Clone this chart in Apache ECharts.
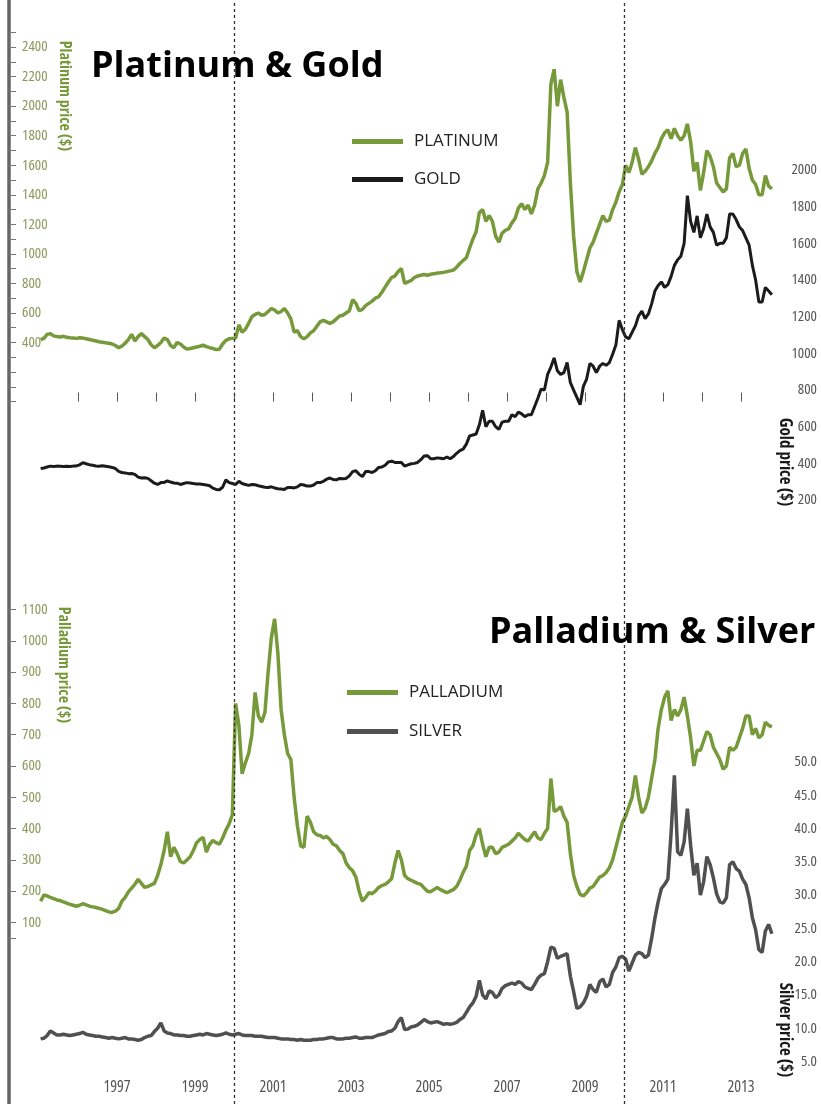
<!DOCTYPE html>
<html>
<head>
<meta charset="utf-8">
<script src="https://cdn.jsdelivr.net/npm/echarts@6/dist/echarts.min.js"></script>
<style>
  html, body { margin: 0; padding: 0; background: #fff; }
  #chart { width: 821px; height: 1104px; }
</style>
</head>
<body>
<div id="chart"></div>
<script>
// Monthly precious-metal prices, Jan 1995 onwards (USD).
const START_YEAR = 1995;

const platinum = [
  420, 428, 455, 460, 445, 440, 438, 442, 436, 432, 430, 428,          // 1995
  432, 430, 425, 420, 415, 410, 405, 402, 398, 395, 390, 380,          // 1996
  365, 375, 395, 420, 455, 410, 440, 460, 440, 420, 385, 365,          // 1997
  380, 400, 430, 420, 380, 365, 400, 390, 370, 355, 360, 365,          // 1998
  370, 375, 382, 372, 365, 360, 352, 355, 390, 415, 425, 428,          // 1999
  430, 520, 470, 490, 530, 575, 590, 600, 585, 590, 610, 630,          // 2000
  620, 600, 610, 630, 600, 560, 470, 480, 440, 425, 440, 465,          // 2001
  480, 510, 540, 550, 540, 530, 540, 560, 580, 585, 600, 615,          // 2002
  690, 665, 615, 625, 650, 665, 680, 700, 710, 740, 775, 810,          // 2003
  840, 850, 880, 900, 800, 810, 820, 840, 850, 855, 860, 855,          // 2004
  862, 865, 870, 872, 875, 880, 885, 890, 910, 935, 955, 975,          // 2005
  1040, 1100, 1150, 1280, 1300, 1220, 1260, 1220, 1120, 1080, 1140, 1160, // 2006
  1170, 1210, 1240, 1310, 1340, 1300, 1330, 1270, 1330, 1440, 1480, 1530, // 2007
  1620, 2150, 2250, 2000, 2180, 2060, 1960, 1480, 1120, 880, 810, 880,    // 2008
  960, 1040, 1080, 1140, 1200, 1260, 1220, 1230, 1300, 1350, 1420, 1470,  // 2009
  1600, 1550, 1620, 1720, 1640, 1540, 1560, 1590, 1630, 1680, 1720, 1780, // 2010
  1820, 1840, 1780, 1850, 1800, 1770, 1800, 1880, 1760, 1560, 1620, 1430, // 2011
  1550, 1700, 1660, 1590, 1480, 1450, 1420, 1440, 1650, 1680, 1590, 1600, // 2012
  1680, 1710, 1580, 1500, 1470, 1400, 1400, 1530, 1460, 1440              // 2013
];

const gold = [
  372, 375, 380, 385, 383, 385, 384, 383, 384, 383, 385, 386,          // 1995
  392, 404, 398, 393, 390, 386, 384, 387, 384, 381, 378, 372,          // 1996
  356, 350, 348, 344, 345, 340, 325, 320, 322, 318, 305, 292,          // 1997
  285, 295, 296, 304, 298, 293, 292, 285, 290, 295, 293, 290,          // 1998
  288, 287, 285, 282, 278, 265, 258, 256, 270, 310, 295, 290,          // 1999
  285, 302, 290, 285, 280, 285, 283, 278, 274, 270, 268, 272,          // 2000
  266, 262, 260, 258, 268, 268, 266, 272, 285, 282, 276, 276,          // 2001
  282, 295, 295, 302, 314, 320, 312, 310, 318, 316, 318, 332,          // 2002
  355, 360, 340, 328, 355, 355, 350, 360, 378, 380, 390, 408,          // 2003
  412, 405, 405, 405, 385, 392, 398, 400, 405, 420, 440, 442,          // 2004
  425, 425, 430, 428, 425, 435, 425, 437, 455, 470, 478, 505,          // 2005
  550, 555, 560, 610, 690, 600, 630, 630, 600, 585, 625, 630,          // 2006
  630, 665, 655, 680, 670, 655, 665, 665, 710, 755, 805, 800,          // 2007
  885, 925, 975, 905, 885, 895, 950, 840, 800, 760, 720, 820,          // 2008
  860, 945, 930, 895, 930, 945, 935, 950, 995, 1045, 1180, 1130,       // 2009
  1090, 1080, 1115, 1150, 1205, 1230, 1190, 1215, 1270, 1340, 1370, 1390, // 2010
  1360, 1375, 1420, 1480, 1510, 1530, 1600, 1860, 1720, 1660, 1750, 1630, // 2011
  1680, 1760, 1690, 1660, 1590, 1600, 1600, 1630, 1760, 1760, 1730, 1690, // 2012
  1670, 1630, 1590, 1480, 1400, 1280, 1280, 1360, 1340, 1320              // 2013
];

const palladium = [
  168, 188, 185, 180, 176, 172, 170, 166, 162, 158, 155, 152,          // 1995
  155, 160, 156, 152, 150, 148, 145, 142, 138, 134, 132, 136,          // 1996
  145, 168, 180, 198, 210, 222, 238, 225, 212, 215, 220, 225,          // 1997
  250, 285, 330, 390, 310, 340, 320, 295, 290, 300, 310, 330,          // 1998
  355, 365, 372, 325, 350, 362, 355, 350, 370, 395, 415, 445,          // 1999
  800, 730, 575, 610, 640, 700, 835, 760, 740, 770, 900, 1010,         // 2000
  1070, 960, 780, 700, 640, 620, 500, 410, 345, 340, 440, 420,         // 2001
  390, 380, 378, 370, 375, 365, 350, 345, 330, 320, 290, 275,          // 2002
  265, 245, 200, 168, 180, 195, 192, 200, 212, 218, 222, 230,          // 2003
  240, 290, 330, 300, 250, 240, 235, 230, 225, 222, 210, 200,          // 2004
  198, 205, 212, 205, 200, 195, 200, 205, 215, 235, 260, 280,          // 2005
  330, 345, 380, 400, 350, 310, 340, 340, 320, 325, 340, 345,          // 2006
  350, 360, 370, 385, 375, 365, 360, 375, 390, 370, 365, 385,          // 2007
  400, 560, 455, 460, 470, 440, 420, 320, 250, 215, 190, 185,          // 2008
  195, 210, 215, 230, 245, 250, 260, 275, 300, 340, 380, 420,          // 2009
  440, 470, 500, 570, 500, 450, 465, 500, 560, 620, 720, 780,          // 2010
  820, 840, 745, 780, 760, 780, 820, 760, 690, 600, 650, 650,          // 2011
  680, 710, 700, 660, 640, 620, 590, 600, 660, 650, 660, 690,          // 2012
  720, 760, 760, 700, 720, 690, 700, 740, 730, 725                     // 2013
];

const silver = [
  8.4, 8.5, 8.9, 9.6, 9.3, 9.0, 9.0, 9.1, 9.0, 8.9, 9.0, 9.1,          // 1995
  9.2, 9.4, 9.1, 9.0, 8.9, 8.8, 8.8, 8.7, 8.6, 8.5, 8.6, 8.5,          // 1996
  8.4, 8.5, 8.6, 8.4, 8.4, 8.3, 8.2, 8.3, 8.6, 8.8, 8.9, 9.5,          // 1997
  10.0, 10.8, 9.6, 9.3, 9.2, 9.0, 9.0, 8.9, 8.9, 8.8, 8.8, 8.9,        // 1998
  9.0, 9.1, 9.0, 9.2, 9.1, 9.0, 8.9, 9.0, 9.1, 9.3, 9.1, 9.0,          // 1999
  9.1, 9.2, 9.0, 8.9, 8.9, 8.9, 8.8, 8.8, 8.8, 8.7, 8.6, 8.6,          // 2000
  8.6, 8.5, 8.4, 8.4, 8.4, 8.3, 8.3, 8.2, 8.3, 8.2, 8.2, 8.2,          // 2001
  8.3, 8.3, 8.4, 8.4, 8.5, 8.6, 8.6, 8.4, 8.4, 8.4, 8.5, 8.5,          // 2002
  8.6, 8.7, 8.5, 8.5, 8.6, 8.6, 8.6, 8.8, 9.0, 9.1, 9.2, 9.5,          // 2003
  9.6, 10.0, 11.0, 11.6, 9.8, 9.9, 10.2, 10.3, 10.5, 10.9, 11.3, 11.0, // 2004
  10.8, 10.9, 11.0, 10.8, 10.6, 10.7, 10.6, 10.7, 10.9, 11.3, 11.6, 12.4, // 2005
  13.2, 13.8, 14.8, 17.2, 15.0, 14.4, 15.6, 15.4, 14.6, 15.0, 16.0, 16.4, // 2006
  16.6, 16.8, 16.6, 17.0, 16.8, 16.2, 16.0, 15.8, 16.6, 17.5, 18.0, 18.2, // 2007
  20.0, 22.2, 22.0, 20.5, 20.8, 21.0, 21.2, 17.8, 15.5, 13.0, 13.2, 13.8, // 2008
  14.8, 16.6, 15.8, 15.4, 17.0, 17.4, 16.2, 16.6, 18.4, 19.2, 20.6, 20.8, // 2009
  20.4, 18.6, 19.8, 21.0, 21.4, 21.2, 20.6, 21.0, 23.5, 26.5, 29.0, 31.0, // 2010
  31.6, 32.4, 39.4, 48.0, 36.5, 36.0, 38.0, 43.0, 37.5, 33.0, 34.8, 30.0, // 2011
  32.0, 35.8, 34.6, 32.6, 30.2, 29.0, 28.8, 29.6, 34.6, 35.0, 34.0, 33.6, // 2012
  32.4, 31.6, 29.6, 26.6, 24.8, 21.8, 21.4, 24.6, 25.6, 24.2              // 2013
];

// Axis ticks and labels
const yearTicks = [1996, 1997, 1998, 1999, 2000, 2001, 2002, 2003, 2004, 2005, 2006,
                   2007, 2008, 2009, 2010, 2011, 2012, 2013];
const yearLabels = [1997, 1999, 2001, 2003, 2005, 2007, 2009, 2011, 2013];
const platinumTicks = [0, 100, 200, 300, 400, 500, 600, 700, 800, 900, 1000, 1100, 1200,
                       1300, 1400, 1500, 1600, 1700, 1800, 1900, 2000, 2100, 2200, 2300, 2400, 2500];
const platinumLabels = [400, 600, 800, 1000, 1200, 1400, 1600, 1800, 2000, 2200, 2400];
const goldLabels = [200, 400, 600, 800, 1000, 1200, 1400, 1600, 1800, 2000];
const palladiumTicks = [50, 100, 200, 300, 400, 500, 600, 700, 800, 900, 1000, 1100];
const palladiumLabels = [100, 200, 300, 400, 500, 600, 700, 800, 900, 1000, 1100];
const silverLabels = [5, 10, 15, 20, 25, 30, 35, 40, 45, 50];

// month index -> decimal year (mid-month)
function toPoints(values) {
  return values.map((v, i) => [START_YEAR + (i + 0.5) / 12, v]);
}

const GREEN = '#76993a';
const SANS = "'Open Sans', 'Noto Sans', sans-serif";
// condensed face for the axis text
const NARROW_STYLE = { fontFamily: SANS, fontStyle: 'condensed' };
const GREEN_TITLE_FONT = "bold condensed 16px 'Open Sans', 'Noto Sans', sans-serif";
const DARK_TITLE_FONT = "bold condensed 17px 'Open Sans', 'Noto Sans', sans-serif";

const plain = v => String(v);

const chart = echarts.init(document.getElementById('chart'), null, { renderer: 'canvas' });

const option = {
  backgroundColor: '#ffffff',
  animation: false,
  title: [
    { text: 'Platinum & Gold', left: 86, top: 44,
      textStyle: { fontFamily: SANS, fontWeight: 'bold', fontSize: 36, color: '#000' } },
    { text: 'Palladium & Silver', left: 484, top: 610,
      textStyle: { fontFamily: SANS, fontWeight: 'bold', fontSize: 36, color: '#000' } }
  ],
  legend: [
    { data: ['PLATINUM', 'GOLD'], orient: 'vertical', left: 347, top: 128,
      icon: 'rect', itemWidth: 51, itemHeight: 5, itemGap: 21,
      textStyle: { fontFamily: SANS, fontSize: 17, color: '#222', padding: [0, 0, 0, 6] } },
    { data: ['PALLADIUM', 'SILVER'], orient: 'vertical', left: 342, top: 679,
      icon: 'rect', itemWidth: 51, itemHeight: 5, itemGap: 22,
      textStyle: { fontFamily: SANS, fontSize: 17, color: '#222', padding: [0, 0, 0, 6] } }
  ],
  grid: { left: 9, right: 41, top: 0, bottom: 0, outerBoundsMode: 'none' },
  xAxis: {
    type: 'value', min: 1994.2308, max: 2014,
    axisLine: { show: false },
    splitLine: { show: false },
    axisTick: { show: true, inside: true, length: 9, customValues: yearTicks,
                lineStyle: { color: '#555', width: 1 } },
    axisLabel: Object.assign({ inside: true, customValues: yearLabels, margin: 9,
                 color: '#555', fontSize: 16, formatter: plain }, NARROW_STYLE)
  },
  yAxis: [
    { // platinum
      type: 'value', position: 'left', min: -4755.6, max: 2719,
      axisLine: { show: true, lineStyle: { color: '#666', width: 3.5 } },
      splitLine: { show: false },
      axisTick: { show: true, inside: true, length: 7, customValues: platinumTicks,
                  lineStyle: { color: '#777', width: 1 } },
      axisLabel: Object.assign({ inside: true, margin: 13, customValues: platinumLabels,
                   color: '#8a9a5b', fontSize: 15, formatter: plain }, NARROW_STYLE)
    },
    { // gold
      type: 'value', position: 'right', min: -3094.4, max: 2927.5,
      axisLine: { show: false }, axisTick: { show: false }, splitLine: { show: false },
      axisLabel: Object.assign({ margin: 37, align: 'right', customValues: goldLabels,
                   color: '#555', fontSize: 15, formatter: plain }, NARROW_STYLE)
    },
    { // palladium
      type: 'value', position: 'left', min: -479.9, max: 3047.3,
      axisLine: { show: false }, splitLine: { show: false },
      axisTick: { show: true, inside: true, length: 7, customValues: palladiumTicks,
                  lineStyle: { color: '#777', width: 1 } },
      axisLabel: Object.assign({ inside: true, margin: 13, customValues: palladiumLabels,
                   color: '#8a9a5b', fontSize: 15, formatter: plain }, NARROW_STYLE)
    },
    { // silver
      type: 'value', position: 'right', min: -1.38, max: 164.5,
      axisLine: { show: false }, axisTick: { show: false }, splitLine: { show: false },
      axisLabel: Object.assign({ margin: 37, align: 'right', customValues: silverLabels,
                   color: '#555', fontSize: 15, formatter: v => v.toFixed(1) }, NARROW_STYLE)
    }
  ],
  series: [
    { name: 'PLATINUM', type: 'line', yAxisIndex: 0, data: toPoints(platinum),
      showSymbol: false, color: GREEN, lineStyle: { width: 3.5, color: GREEN }, z: 3,
      markLine: {
        silent: true, symbol: 'none', label: { show: false },
        lineStyle: { type: [3, 3], color: '#333', width: 1.3 },
        data: [{ xAxis: 2000 }, { xAxis: 2010 }]
      } },
    { name: 'GOLD', type: 'line', yAxisIndex: 1, data: toPoints(gold),
      showSymbol: false, color: '#1b1b1b', lineStyle: { width: 3, color: '#1b1b1b' }, z: 3 },
    { name: 'PALLADIUM', type: 'line', yAxisIndex: 2, data: toPoints(palladium),
      showSymbol: false, color: GREEN, lineStyle: { width: 3.5, color: GREEN }, z: 3 },
    { name: 'SILVER', type: 'line', yAxisIndex: 3, data: toPoints(silver),
      showSymbol: false, color: '#505050', lineStyle: { width: 3.5, color: '#505050' }, z: 3 }
  ],
  graphic: [
    { type: 'text', x: 65, y: 96, rotation: -Math.PI / 2,
      style: { text: 'Platinum price ($)', fill: GREEN, font: GREEN_TITLE_FONT,
               align: 'center', verticalAlign: 'middle' } },
    { type: 'text', x: 64, y: 665, rotation: -Math.PI / 2,
      style: { text: 'Palladium price ($)', fill: GREEN, font: GREEN_TITLE_FONT,
               align: 'center', verticalAlign: 'middle' } },
    { type: 'text', x: 785, y: 462, rotation: -Math.PI / 2,
      style: { text: 'Gold price ($)', fill: '#1a1a1a', font: DARK_TITLE_FONT,
               align: 'center', verticalAlign: 'middle' } },
    { type: 'text', x: 785, y: 1030, rotation: -Math.PI / 2,
      style: { text: 'Silver price ($)', fill: '#1a1a1a', font: DARK_TITLE_FONT,
               align: 'center', verticalAlign: 'middle' } }
  ]
};

chart.setOption(option);
</script>
</body>
</html>
